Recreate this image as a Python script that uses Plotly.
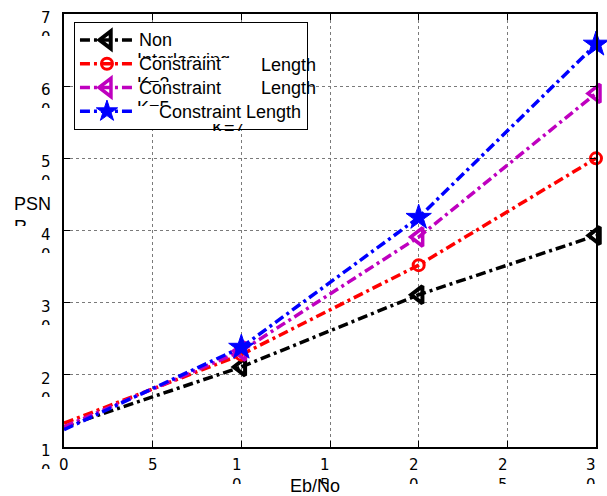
import plotly.graph_objects as go

# ---------------- data ----------------
x_vals = [0, 10, 20, 30]
non_interleaving = [12.8, 21.1, 31.1, 39.3]
k3_vals = [13.3, 22.8, 35.2, 50.0]
k5_vals = [12.8, 23.3, 39.1, 59.0]
k7_vals = [12.4, 23.8, 41.8, 65.8]

series_names = ["Non", "Constraint", "Constraint", "\u00a0\u00a0\u00a0\u00a0Constraint Length"]
series_colors = ["#000000", "#ff0000", "#bf00bf", "#0000ff"]
series_symbols = ["triangle-left-open", "circle-open", "triangle-left-open", "star"]
series_sizes = [15, 11, 16, 19]
series_mlw = [4, 3, 3.5, 1]

x_ticks = [0, 5, 10, 15, 20, 25, 30]
x_tick_text = ["0", "5", "1<br>0", "1<br>5", "2<br>0", "2<br>5", "3<br>0"]
y_ticks = [10, 20, 30, 40, 50, 60, 70]
y_tick_text = ["1<br>0", "2<br>0", "3<br>0", "4<br>0", "5<br>0", "6<br>0", "7<br>0"]

x_title = "Eb/No"
y_title = "PSN<br>R"

# ---------------- geometry ----------------
W, H = 607, 496
PL, PR, PT, PB = 64, 598, 14, 447


def px2x(px):
    return (px - PL) / (PR - PL)


def py2y(py):
    return (PB - py) / (PB - PT)


FONT = "Liberation Sans, Arial, sans-serif"
TICKFONT = "DejaVu Sans, sans-serif"
DASH = "10px,4px,3px,4px"

fig = go.Figure()
all_series = [non_interleaving, k3_vals, k5_vals, k7_vals]
for vals, name, col, sym, sz, mlw in zip(all_series, series_names, series_colors,
                                          series_symbols, series_sizes, series_mlw):
    # first segment (no marker at x=0)
    fig.add_trace(go.Scatter(
        x=x_vals[:2], y=vals[:2], mode="lines", showlegend=False,
        line=dict(color=col, width=3.5, dash=DASH), hoverinfo="skip"))
    fig.add_trace(go.Scatter(
        x=x_vals[1:], y=vals[1:], mode="lines+markers",
        name='<span style="font-size:18px">' + name + '</span>',
        line=dict(color=col, width=3.5, dash=DASH),
        marker=dict(symbol=sym, size=sz, color=col, line=dict(color=col, width=mlw)),
        cliponaxis=False))

ann = []
# x tick labels
for tv, tt in zip(x_ticks, x_tick_text):
    two = "<br>" in tt
    ann.append(dict(x=tv, xref="x", y=0, yref="paper", text=tt, showarrow=False,
                    xanchor="center", yanchor="top", align="left", valign="top",
                    xshift=-4.8 if two else 0, yshift=-6.7,
                    height=28 if two else None,
                    font=dict(family=TICKFONT, size=15, color="black")))
# y tick labels
for tv, tt in zip(y_ticks, y_tick_text):
    ann.append(dict(x=0, xref="paper", y=tv, yref="y", text=tt, showarrow=False,
                    xanchor="right", yanchor="top", align="left", valign="top",
                    xshift=-11.4, yshift=7, height=27,
                    font=dict(family=TICKFONT, size=15, color="black")))

# axis titles
ann.append(dict(x=px2x(11.6), xref="paper", y=py2y(192.3), yref="paper", text=y_title,
                showarrow=False, xanchor="left", yanchor="top", align="left", valign="top",
                height=32, font=dict(family=FONT, size=18, color="black")))
ann.append(dict(x=px2x(316), xref="paper", y=py2y(473.9), yref="paper", text=x_title,
                showarrow=False, xanchor="center", yanchor="top",
                font=dict(family=FONT, size=18, color="black")))

# broken legend label fragments
frag = [("Interleaving", 135.3, 47.6, 8, "top"),
        ("K=3", 135.6, 71.6, 8, "top"),
        ("K=5", 135.6, 95.6, 8, "top")]
for t, lx, ty, h, va in frag:
    ann.append(dict(x=px2x(lx), xref="paper", y=py2y(ty), yref="paper", text=t,
                    showarrow=False, xanchor="left", yanchor="top", valign=va, height=h,
                    font=dict(family=FONT, size=18, color="black")))
ann.append(dict(x=px2x(210.6), xref="paper", y=py2y(127.5), yref="paper", text="K=7",
                showarrow=False, xanchor="left", yanchor="middle", valign="middle", height=7,
                font=dict(family=FONT, size=18, color="black")))
for ty in (52.6, 75.6):
    ann.append(dict(x=px2x(259.7), xref="paper", y=py2y(ty), yref="paper", text="Length",
                    showarrow=False, xanchor="left", yanchor="top",
                    font=dict(family=FONT, size=18, color="black")))

axis_common = dict(showline=True, linecolor="black", linewidth=1.5, mirror="ticks",
                   ticks="inside", ticklen=6, tickcolor="black", tickwidth=1,
                   showgrid=True, gridcolor="#7a7a7a", griddash="dot", gridwidth=1,
                   zeroline=False, showticklabels=False, fixedrange=True)

fig.update_layout(
    width=W, height=H, autosize=False,
    margin=dict(l=PL, r=W - PR, t=PT, b=H - PB, pad=0),
    paper_bgcolor="white", plot_bgcolor="white",
    font=dict(family=FONT, size=15, color="black"),
    xaxis=dict(range=[0, 30], tickvals=x_ticks, **axis_common),
    yaxis=dict(range=[10, 70], tickvals=y_ticks, **axis_common),
    legend=dict(x=px2x(74), y=py2y(22), xanchor="left", yanchor="top",
                bgcolor="white", bordercolor="black", borderwidth=1,
                font=dict(family=FONT, size=16, color="black"),
                itemwidth=54, tracegroupgap=0),
    annotations=ann,
    showlegend=True,
)

fig.write_html("out.html")
